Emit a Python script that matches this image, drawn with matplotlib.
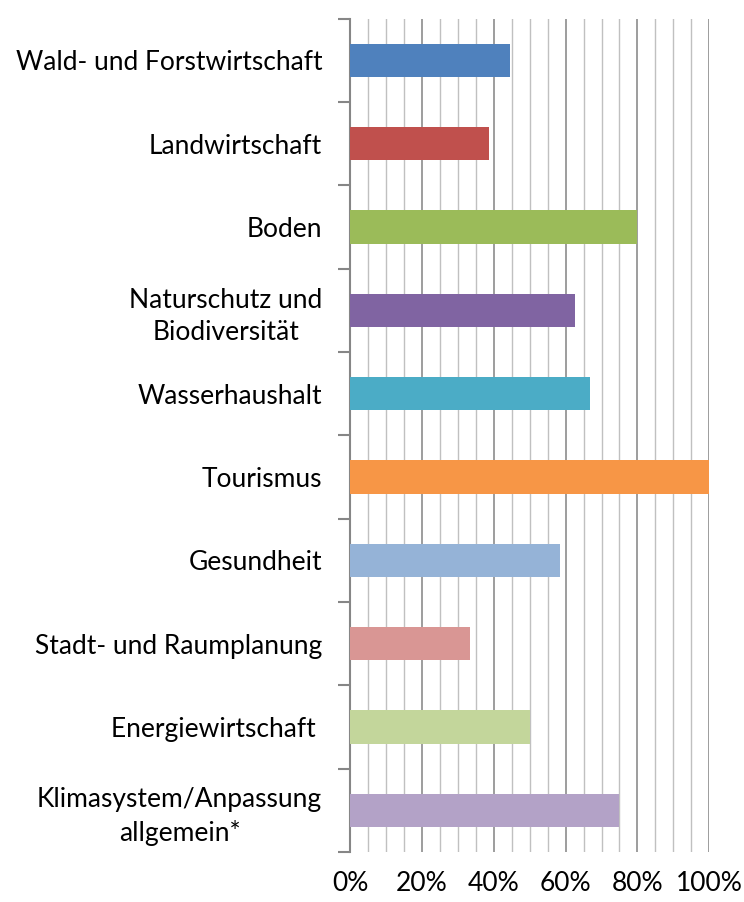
import matplotlib
matplotlib.use("Agg")
import matplotlib.pyplot as plt
from matplotlib.ticker import MultipleLocator, FixedLocator, PercentFormatter
import numpy as np

categories = [
    "Wald- und Forstwirtschaft",
    "Landwirtschaft",
    "Boden",
    "Naturschutz und\nBiodiversität",
    "Wasserhaushalt",
    "Tourismus",
    "Gesundheit",
    "Stadt- und Raumplanung",
    "Energiewirtschaft ",
    "Klimasystem/Anpassung\nallgemein*",
]
values = [44.5, 38.8, 80.0, 62.7, 66.8, 100.0, 58.4, 33.4, 50.0, 75.0]
colors = ["#4F81BD", "#C0504D", "#9BBB59", "#8064A2", "#4BACC6",
          "#F79646", "#95B3D7", "#D99694", "#C3D69B", "#B3A2C7"]
xticks = [0, 20, 40, 60, 80, 100]

plt.rcParams['font.family'] = ['Lato', 'DejaVu Sans']

fig = plt.figure(figsize=(7.44, 9.02), dpi=100)
ax = fig.add_axes([350/744, 1 - 852/902, (709.3 - 350)/744, (852 - 18.7)/902])

n = len(categories)
y = np.arange(n)
ax.barh(y, values, height=0.4, color=colors, zorder=3)

ax.set_xlim(0, 100)
ax.set_ylim(n - 0.5, -0.5)

# gridlines
ax.xaxis.set_major_locator(FixedLocator(xticks))
ax.xaxis.set_minor_locator(MultipleLocator(5))
ax.xaxis.set_major_formatter(PercentFormatter(decimals=0))
ax.grid(axis='x', which='minor', color='#C0C0C0', linewidth=1.0, zorder=0)
ax.grid(axis='x', which='major', color='#8C8C8C', linewidth=1.2, zorder=0)
ax.tick_params(axis='x', which='both', length=0, pad=14, labelsize=19)

ax.set_yticks(y)
ax.set_yticklabels(categories, fontsize=19, ha='right', multialignment='center',
                   linespacing=1.35)
ax.yaxis.set_minor_locator(FixedLocator(np.arange(-0.5, n, 1.0)))
ax.tick_params(axis='y', which='major', length=0, pad=20)
ax.tick_params(axis='y', which='minor', length=9, width=1.5, color='#868686', direction='out')

for s in ['top', 'right', 'bottom']:
    ax.spines[s].set_visible(False)
ax.spines['left'].set_color('#868686')
ax.spines['left'].set_linewidth(1.5)

fig.savefig("out.png", dpi=100)
